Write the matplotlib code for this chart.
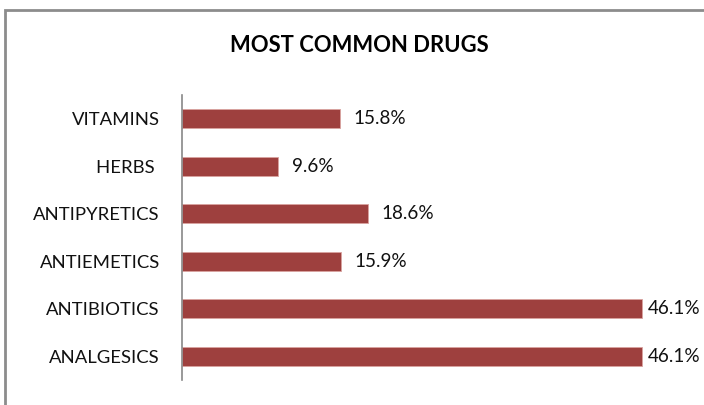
import matplotlib.pyplot as plt
from matplotlib.patches import Rectangle

categories = ["ANALGESICS", "ANTIBIOTICS", "ANTIEMETICS", "ANTIPYRETICS", "HERBS ", "VITAMINS"]
values = [46.1, 46.1, 15.9, 18.6, 9.6, 15.8]

plt.rcParams['font.family'] = ['Lato', 'DejaVu Sans']

fig = plt.figure(figsize=(7.04, 4.05), dpi=100)
ax = fig.add_axes([0.2585, 0.0617, 0.709, 0.7037])

y = list(range(len(categories)))
ax.barh(y, values, height=0.4, color='#9E403E', edgecolor='#D9A3A0', linewidth=0.6)
for yi, v in zip(y, values):
    off = 10 if v < 40 else 4  # labels near the edge get pulled in
    ax.annotate(f"{v:.1f}%", (v, yi), xytext=(off, 0), textcoords='offset points',
                va='center', ha='left', fontsize=13.6, color='#111111')

ax.set_xlim(0, 50)
ax.set_ylim(-0.5, len(categories) - 0.5)
ax.set_yticks(y)
ax.set_yticklabels(categories, fontsize=13.3, color='#111111')
ax.tick_params(axis='y', length=0, pad=16)
ax.set_xticks([])
for s in ['top', 'right', 'bottom']:
    ax.spines[s].set_visible(False)
ax.spines['left'].set_color('#888888')
ax.spines['left'].set_linewidth(1.2)

fig.text(0.511, 0.888, "MOST COMMON DRUGS", ha='center', va='center',
         fontsize=15.8, fontweight='bold', color='#000000')

# outer border (clipped on right/bottom like the original)
fig.patches.append(Rectangle((5 / 704, -0.05), 1.1, 1 - 10 / 405 + 0.05,
                             transform=fig.transFigure, fill=False,
                             edgecolor='#8C8C8C', linewidth=2))

fig.savefig("out.png", dpi=100)
